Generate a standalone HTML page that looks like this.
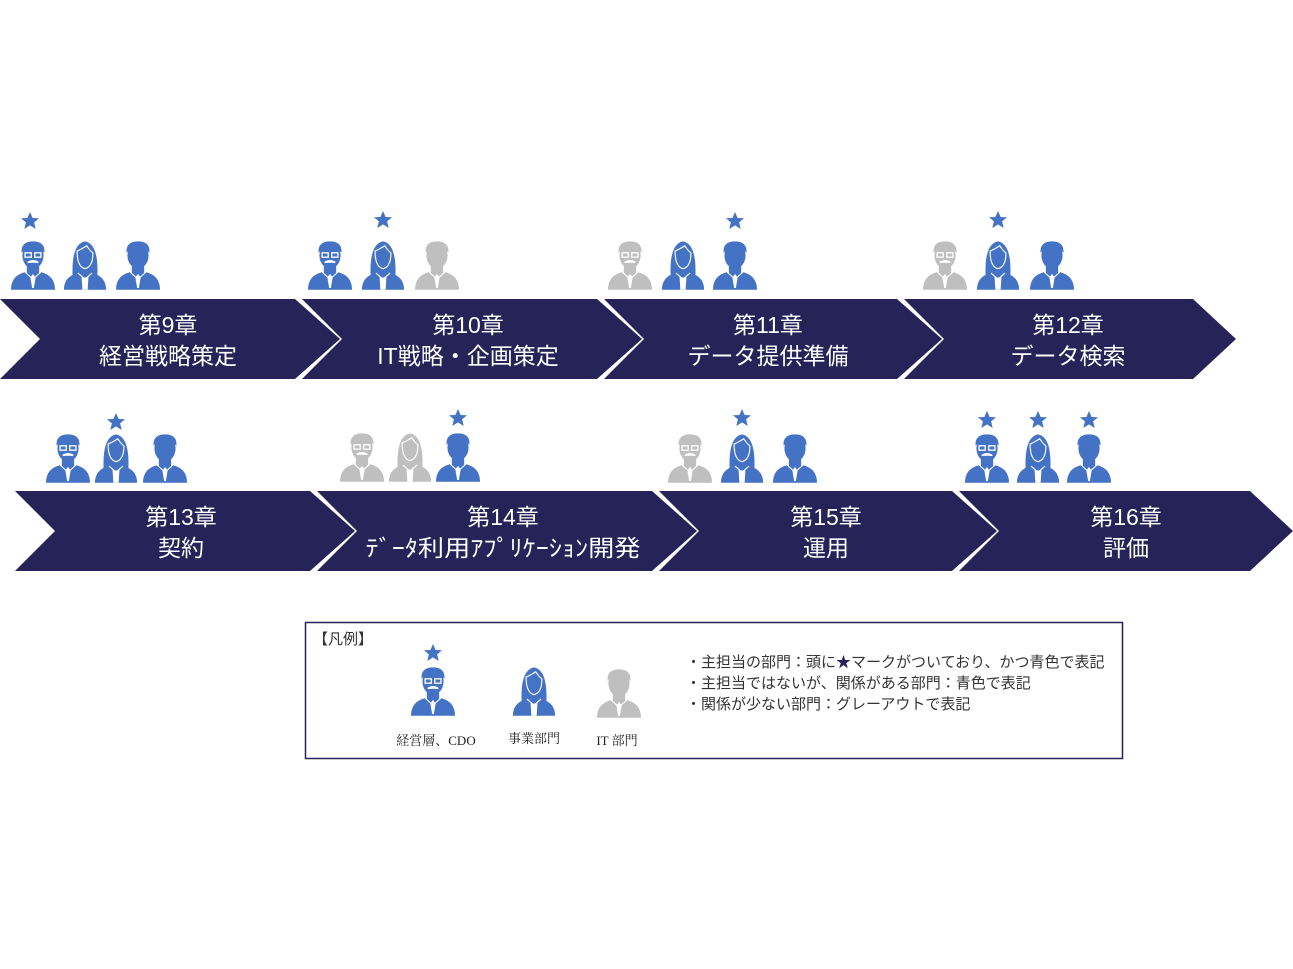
<!DOCTYPE html>
<html><head><meta charset="utf-8"><style>
html,body{margin:0;padding:0;background:#fff;width:1293px;height:969px;overflow:hidden}
svg text{font-family:"Liberation Sans","Noto Sans CJK JP",sans-serif}
</style></head><body>
<svg width="1293" height="969" viewBox="0 0 1293 969" xmlns="http://www.w3.org/2000/svg">
<defs>
<g id="m0">
 <path d="M-25 52 Q-25 36 -9 32 L0 40 L9 32 Q25 36 25 52 Z"/>
 <path d="M-7 24 L-7 33 L0 40 L7 33 L7 24 Z"/>
 <ellipse cx="0" cy="13" rx="12" ry="15"/>
 <path d="M-13 10 Q-14 -3 0 -3 Q14 -3 13 10 Q8 4 0 5 Q-8 4 -13 10Z"/>
 <path d="M-3 38 L0 34 L3 38 L1 50 L-1 50Z" fill="#fff"/>
 <path d="M-9 32 L0 40 L9 32" fill="none" stroke="#fff" stroke-width="1.2"/>
</g>
<g id="m" transform="translate(0,4) scale(0.88)"><use href="#m0"/></g>
<g id="c" transform="translate(0,4) scale(0.88)">
 <use href="#m0"/>
 <rect x="-9" y="10" width="7" height="5" fill="none" stroke="#fff" stroke-width="1.5"/>
 <rect x="2" y="10" width="7" height="5" fill="none" stroke="#fff" stroke-width="1.5"/>
 <path d="M-6 21 Q0 17 6 21 Q0 20 -6 21Z" fill="#fff" stroke="#fff" stroke-width="1.5"/>
</g>
<g id="w" transform="translate(0,4) scale(0.88)">
 <path d="M-14 38 Q-16 0 0 -3 Q16 0 14 38 Z"/>
 <path d="M-24 52 Q-24 37 -8 33 L0 40 L8 33 Q24 37 24 52 Z"/>
 <path d="M-9 8 Q-4 6 2 2 Q6 8 9 10 Q9 26 0 28 Q-9 26 -9 8Z" fill="none" stroke="#fff" stroke-width="1.3"/>
 <path d="M-8 33 L0 40 L8 33" fill="none" stroke="#fff" stroke-width="1.3"/>
 <path d="M-4 36 L0 40 L4 36 L3 52 L-3 52Z" fill="#fff"/>
</g>
<path id="s" d="M0,-9 L2.6,-3 L9,-2.8 L4.1,1.4 L5.7,8 L0,4.4 L-5.7,8 L-4.1,1.4 L-9,-2.8 L-2.6,-3Z"/>
</defs>

<g fill="#252358">
 <polygon points="0,299 295,299 340,339 295,379 0,379 40,339"/>
 <polygon points="302,299 597,299 642,339 597,379 302,379 342,339"/>
 <polygon points="604,299 897,299 942,339 897,379 604,379 644,339"/>
 <polygon points="904,299 1193,299 1236,339 1193,379 904,379 944,339"/>
 <polygon points="15,491 310,491 355,531 310,571 15,571 55,531"/>
 <polygon points="317,491 652,491 697,531 652,571 317,571 357,531"/>
 <polygon points="659,491 952,491 997,531 952,571 659,571 699,531"/>
 <polygon points="959,491 1250,491 1293,531 1250,571 959,571 999,531"/>
</g>
<g fill="#fff" font-size="23" text-anchor="middle">
 <text x="168" y="333">第9章</text><text x="168" y="364">経営戦略策定</text>
 <text x="468" y="333">第10章</text><text x="468" y="364">IT戦略・企画策定</text>
 <text x="768" y="333">第11章</text><text x="768" y="364">データ提供準備</text>
 <text x="1068" y="333">第12章</text><text x="1068" y="364">データ検索</text>
 <text x="181" y="525">第13章</text><text x="181" y="556">契約</text>
 <text x="503" y="525">第14章</text><text x="503" y="556" textLength="275" lengthAdjust="spacingAndGlyphs">ﾃﾞｰﾀ利用ｱﾌﾟﾘｹｰｼｮﾝ開発</text>
 <text x="826" y="525">第15章</text><text x="826" y="556">運用</text>
 <text x="1126" y="525">第16章</text><text x="1126" y="556">評価</text>
</g>

<g fill="#4472c4">
 <use href="#c" x="33" y="240"/><use href="#w" x="85" y="240"/><use href="#m" x="138" y="240"/>
 <use href="#s" x="30" y="221"/>
 <use href="#c" x="330" y="240"/><use href="#w" x="383" y="240"/>
 <use href="#s" x="383" y="220"/>
 <use href="#w" x="683" y="240"/><use href="#m" x="735" y="240"/>
 <use href="#s" x="735" y="221"/>
 <use href="#w" x="998" y="240"/><use href="#m" x="1052" y="240"/>
 <use href="#s" x="998" y="220"/>
 <use href="#c" x="68" y="433"/><use href="#w" x="116" y="433"/><use href="#m" x="165" y="433"/>
 <use href="#s" x="116" y="422"/>
 <use href="#m" x="458" y="432"/><use href="#s" x="458" y="418"/>
 <use href="#w" x="742" y="433"/><use href="#m" x="795" y="433"/><use href="#s" x="742" y="418"/>
 <use href="#c" x="987" y="433"/><use href="#w" x="1038" y="433"/><use href="#m" x="1089" y="433"/>
 <use href="#s" x="987" y="420"/><use href="#s" x="1038" y="420"/><use href="#s" x="1089" y="420"/>
</g>
<g fill="#bfbfbf">
 <use href="#m" x="437" y="240"/>
 <use href="#c" x="630" y="240"/>
 <use href="#c" x="945" y="240"/>
 <use href="#c" x="362" y="432"/><use href="#w" x="410" y="432"/>
 <use href="#c" x="690" y="433"/>
</g>

<rect x="305.5" y="622.5" width="817" height="136" fill="none" stroke="#252358" stroke-width="1.5"/>
<text x="313" y="644" font-size="15" fill="#333">【凡例】</text>
<g fill="#4472c4">
 <use href="#s" x="433" y="653"/>
 <use href="#c" x="433" y="666"/>
 <use href="#w" x="534" y="666"/>
</g>
<g fill="#bfbfbf"><use href="#m" x="619" y="668"/></g>
<g font-size="13" fill="#222" text-anchor="middle">
 <text x="436" y="745" style="font-family:'Liberation Serif','Noto Serif CJK SC',serif">経営層、CDO</text>
 <text x="534" y="743" style="font-family:'Liberation Serif','Noto Serif CJK SC',serif">事業部門</text>
 <text x="617" y="745" style="font-family:'Liberation Serif','Noto Serif CJK SC',serif">IT 部門</text>
</g>
<g font-size="15" fill="#333">
 <text x="686" y="667">・主担当の部門：頭に<tspan fill="#252358">★</tspan>マークがついており、かつ青色で表記</text>
 <text x="686" y="688">・主担当ではないが、関係がある部門：青色で表記</text>
 <text x="686" y="709">・関係が少ない部門：グレーアウトで表記</text>
</g>
</svg>
</body></html>
